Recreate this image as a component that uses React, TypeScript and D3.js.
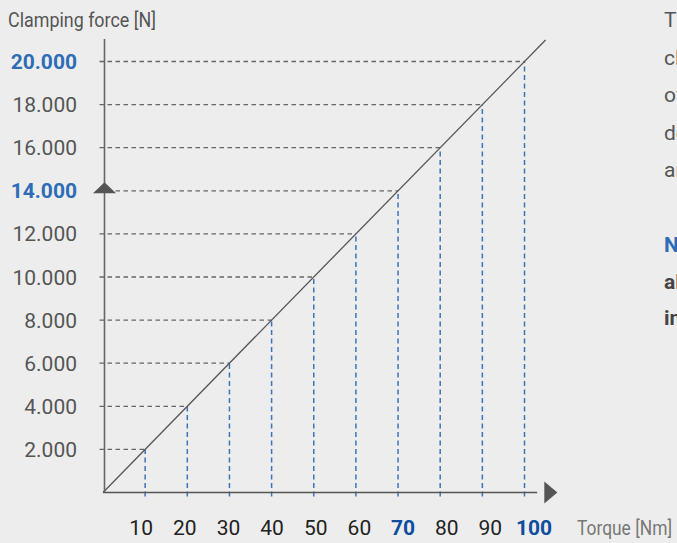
import React, { useEffect } from "react";
import * as d3 from "d3";

const torqueTicks = [10, 20, 30, 40, 50, 60, 70, 80, 90, 100];
const forceTicks = [2000, 4000, 6000, 8000, 10000, 12000, 14000, 16000, 18000, 20000];
const forceLabels = ["2.000", "4.000", "6.000", "8.000", "10.000", "12.000", "14.000", "16.000", "18.000", "20.000"];
const highlightTorque = [70, 100];
const highlightForce = [14000, 20000];
const lineTorque = [0, 105];
const lineForce = [0, 21000];
const yTitle = "Clamping force [N]";
const xTitle = "Torque [Nm]";
const sideText = ["The", "clamping", "of", "depends", "and"];
const sideBold = ["Note", "always", "in"];

const W = 677;
const H = 543;
const FONT = "Roboto, 'Noto Sans', sans-serif";

export default function App() {
  useEffect(() => {
    document.body.style.margin = "0";
    document.body.style.overflow = "hidden";
  }, []);

  const x = d3.scaleLinear().domain([0, 100]).range([103, 524.5]);
  const y = d3.scaleLinear().domain([0, 20000]).range([492.5, 61.5]);
  const xLab = d3.scaleLinear().domain([10, 100]).range([x(10) - 4, x(100) + 9.5]);
  const x0 = x(0);
  const y0 = y(0);
  const axisX = x0 + 1.5;

  const diag = d3.line<number>()
    .x((_, i) => x(lineTorque[i]))
    .y((_, i) => y(lineForce[i]))(lineTorque) as string;

  const arrowY = y(14000);

  return (
    <svg width={W} height={H} style={{ position: "absolute", left: 0, top: 0, background: "#ededed" }} fontFamily={FONT}>
      <rect width={W} height={H} fill="#ededed" />
      {forceTicks.map((f) => (
        <line key={"h" + f} x1={axisX - 5} x2={x((f / 20000) * 100)} y1={y(f)} y2={y(f)}
          stroke="#666" strokeWidth={1.3} strokeDasharray="4.5,3.5" />
      ))}
      {torqueTicks.map((t) => (
        <line key={"v" + t} x1={x(t)} x2={x(t)} y1={y0 + 4} y2={y((t / 100) * 20000)}
          stroke="#3c74ba" strokeWidth={1.5} strokeDasharray="5,3.5" />
      ))}
      <path d={diag} fill="none" stroke="#555" strokeWidth={1.3} />
      <line x1={axisX} x2={axisX} y1={y(21000) - 1} y2={y0} stroke="#666" strokeWidth={1.6} />
      <line x1={x0} x2={x(103)} y1={y0} y2={y0} stroke="#555" strokeWidth={1.6} />
      <path d={`M${x(104.7)},${y0 - 11}L${x(107.8)},${y0}L${x(104.7)},${y0 + 11}Z`} fill="#555" />
      <path d={`M${axisX - 11.5},${arrowY + 2.5}L${axisX + 11.5},${arrowY + 2.5}L${axisX},${arrowY - 8.5}Z`} fill="#555" />
      {forceTicks.map((f, i) => {
        const hl = highlightForce.includes(f);
        return (
          <text key={"yl" + f} x={77} y={y(f) + 7.5} textAnchor="end" fontSize={21}
            fontWeight={hl ? 700 : 400} fill={hl ? "#2e6db5" : "#555"}>{forceLabels[i]}</text>
        );
      })}
      {torqueTicks.map((t) => {
        const hl = highlightTorque.includes(t);
        return (
          <text key={"xl" + t} x={xLab(t)} y={535} textAnchor="middle" fontSize={21}
            fontWeight={hl ? 700 : 400} fill={hl ? "#0e4e9f" : "#222"}>{t}</text>
        );
      })}
      <text x={8} y={27} fontSize={21} fill="#555" textLength={148} lengthAdjust="spacingAndGlyphs">{yTitle}</text>
      <text x={577} y={535} fontSize={21} fill="#777" textLength={95} lengthAdjust="spacingAndGlyphs">{xTitle}</text>
      {sideText.map((s, i) => (
        <text key={"s" + i} x={664} y={27 + i * 37.5} fontSize={21} fill="#555">{s}</text>
      ))}
      {sideBold.map((s, i) => (
        <text key={"b" + i} x={664} y={252 + i * 36.5} fontSize={21} fontWeight={700}
          fill={i === 0 ? "#2e6db5" : "#444"}>{s}</text>
      ))}
    </svg>
  );
}
